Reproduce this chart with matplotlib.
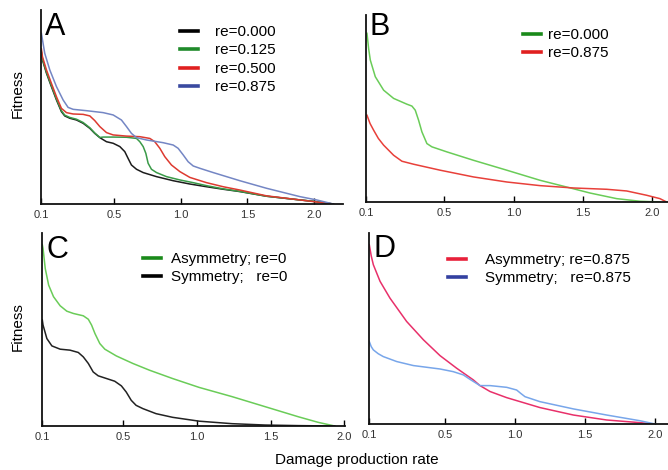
import numpy as np
import matplotlib.pyplot as plt
from matplotlib.lines import Line2D

plt.rcParams['font.family'] = ['Liberation Sans', 'DejaVu Sans']

# ---------------- data (x in axis units, fitness scaled 0..1) ----------------
# panel A
a_black_x = [-0.045, -0.037, -0.007, 0.030, 0.068, 0.105, 0.130, 0.168, 0.218, 0.268, 0.318,
             0.355, 0.393, 0.443, 0.493, 0.543, 0.580, 0.605, 0.630, 0.668, 0.718, 0.818,
             0.943, 1.068, 1.193, 1.318, 1.443, 1.643, 1.893, 2.018, 2.143]
a_black_y = [0.78, 0.742, 0.674, 0.605, 0.536, 0.476, 0.454, 0.442, 0.433, 0.416, 0.390,
             0.364, 0.342, 0.321, 0.313, 0.296, 0.270, 0.235, 0.201, 0.179, 0.162, 0.141,
             0.120, 0.103, 0.089, 0.076, 0.064, 0.040, 0.021, 0.012, 0.0]
a_green_x = [-0.045, -0.037, -0.007, 0.030, 0.068, 0.105, 0.130, 0.168, 0.218, 0.268, 0.318,
             0.355, 0.393, 0.418, 0.493, 0.593, 0.668, 0.693, 0.718, 0.738, 0.755, 0.780,
             0.818, 0.893, 0.993, 1.093, 1.193, 1.318, 1.443, 1.643, 1.893, 2.018, 2.143]
a_green_y = [0.785, 0.746, 0.679, 0.610, 0.541, 0.481, 0.458, 0.446, 0.437, 0.420, 0.393,
             0.366, 0.343, 0.345, 0.345, 0.344, 0.338, 0.321, 0.296, 0.261, 0.210, 0.179,
             0.162, 0.141, 0.124, 0.110, 0.0945, 0.078, 0.065, 0.040, 0.021, 0.012, 0.0]
a_red_x = [-0.045, -0.037, -0.007, 0.030, 0.068, 0.105, 0.143, 0.193, 0.268, 0.318, 0.355,
           0.393, 0.443, 0.493, 0.593, 0.693, 0.768, 0.805, 0.843, 0.880, 0.930, 0.993,
           1.068, 1.193, 1.318, 1.443, 1.643, 1.893, 2.143]
a_red_y = [0.80, 0.759, 0.691, 0.622, 0.553, 0.493, 0.471, 0.464, 0.462, 0.454, 0.430,
           0.399, 0.368, 0.356, 0.350, 0.347, 0.338, 0.321, 0.287, 0.244, 0.201, 0.167,
           0.137, 0.110, 0.089, 0.072, 0.042, 0.021, 0.0]
a_blue_x = [-0.045, -0.020, 0.018, 0.068, 0.118, 0.155, 0.193, 0.293, 0.418, 0.493, 0.555,
            0.593, 0.630, 0.668, 0.743, 0.868, 0.943, 0.980, 1.018, 1.055, 1.093, 1.143,
            1.243, 1.343, 1.443, 1.643, 1.893, 2.018, 2.143]
a_blue_y = [0.880, 0.777, 0.691, 0.605, 0.536, 0.498, 0.488, 0.481, 0.471, 0.459, 0.433,
            0.399, 0.364, 0.342, 0.330, 0.316, 0.304, 0.287, 0.253, 0.218, 0.196, 0.184,
            0.162, 0.141, 0.120, 0.081, 0.038, 0.021, 0.0]

# panel B
b_green_x = [-0.057, -0.045, -0.033, 0.003, 0.063, 0.135, 0.231, 0.267, 0.291, 0.315, 0.339,
             0.375, 0.411, 0.519, 0.711, 0.951, 1.191, 1.383, 1.551, 1.743, 1.911, 2.055]
b_green_y = [0.902, 0.820, 0.759, 0.670, 0.598, 0.554, 0.523, 0.513, 0.491, 0.4375, 0.375,
             0.3125, 0.295, 0.268, 0.223, 0.170, 0.116, 0.080, 0.048, 0.018, 0.004, 0.0]
b_red_x = [-0.057, -0.035, -0.009, 0.025, 0.063, 0.135, 0.195, 0.279, 0.471, 0.711, 0.951,
           1.191, 1.431, 1.671, 1.815, 1.959, 2.055, 2.103]
b_red_y = [0.464, 0.420, 0.384, 0.340, 0.304, 0.250, 0.218, 0.202, 0.170, 0.134, 0.107,
           0.0875, 0.075, 0.068, 0.059, 0.036, 0.018, 0.0]

# panel C
c_green_x = [-0.047, -0.042, -0.027, -0.004, 0.029, 0.074, 0.119, 0.164, 0.231, 0.265, 0.287,
             0.310, 0.343, 0.377, 0.455, 0.567, 0.680, 0.836, 1.016, 1.240, 1.464, 1.688,
             1.823, 1.935]
c_green_y = [0.94, 0.920, 0.816, 0.730, 0.670, 0.623, 0.595, 0.583, 0.571, 0.553, 0.523,
             0.479, 0.427, 0.398, 0.363, 0.324, 0.289, 0.246, 0.200, 0.152, 0.100, 0.048,
             0.019, 0.0]
c_black_x = [-0.047, -0.042, -0.016, 0.018, 0.074, 0.141, 0.197, 0.231, 0.265, 0.298, 0.332,
             0.388, 0.444, 0.489, 0.522, 0.556, 0.589, 0.635, 0.724, 0.836, 1.016, 1.240,
             1.464, 1.688, 1.935]
c_black_y = [0.55, 0.523, 0.453, 0.415, 0.398, 0.393, 0.381, 0.358, 0.324, 0.280, 0.260,
             0.246, 0.232, 0.208, 0.176, 0.133, 0.107, 0.090, 0.064, 0.045, 0.025, 0.012,
             0.005, 0.002, 0.0]

# panel D
d_red_x = [-0.044, -0.030, -0.015, 0.033, 0.104, 0.223, 0.343, 0.462, 0.581, 0.700, 0.748,
           0.820, 0.939, 1.058, 1.177, 1.416, 1.654, 1.893, 1.988]
d_red_y = [0.939, 0.880, 0.834, 0.747, 0.659, 0.537, 0.441, 0.358, 0.292, 0.231, 0.201,
           0.170, 0.138, 0.112, 0.086, 0.047, 0.021, 0.007, 0.0]
d_blue_x = [-0.044, -0.030, -0.015, 0.020, 0.056, 0.152, 0.271, 0.462, 0.557, 0.629, 0.676,
            0.748, 0.820, 0.939, 1.010, 1.040, 1.070, 1.177, 1.416, 1.654, 1.893, 2.000]
d_blue_y = [0.432, 0.405, 0.388, 0.368, 0.353, 0.327, 0.306, 0.288, 0.274, 0.257, 0.234,
            0.201, 0.201, 0.192, 0.178, 0.160, 0.143, 0.117, 0.079, 0.047, 0.017, 0.0]

tick_vals = [0.5, 1.0, 1.5, 2.0]
tick_text = ['0.1', '0.5', '1.0', '1.5', '2.0']

W, H = 668, 470
fig = plt.figure(figsize=(W / 100, H / 100), dpi=100)


def make_ax(left, top, right, bottom, xl):
    ax = fig.add_axes([left / W, 1 - bottom / H, (right - left) / W, (bottom - top) / H])
    ax.set_xlim(*xl)
    ax.set_ylim(0, 1)
    for s in ['top', 'right']:
        ax.spines[s].set_visible(False)
    for s in ['left', 'bottom']:
        ax.spines[s].set_linewidth(1.3)
        ax.spines[s].set_color('#111111')
    ax.set_yticks([])
    ax.set_xticks([xl[0]] + tick_vals)
    ax.set_xticklabels(tick_text)
    ax.tick_params(axis='x', direction='in', length=4, width=1, pad=4,
                   labelsize=8, labelcolor='#333333')
    ax.set_facecolor('none')
    return ax


axA = make_ax(41, 10, 343, 204, (-0.048, 2.216))
axB = make_ax(366, 15, 668, 202, (-0.064, 2.113))
axC = make_ax(42, 233, 345, 426, (-0.049, 2.005))
axD = make_ax(369, 233, 668, 424, (-0.046, 2.093))

lw = 1.1
axA.plot(a_black_x, a_black_y, color='#1c1c1c', lw=lw)
axA.plot(a_green_x, a_green_y, color='#3a9a48', lw=lw)
axA.plot(a_red_x, a_red_y, color='#dd3a30', lw=lw)
axA.plot(a_blue_x, a_blue_y, color='#7486c4', lw=lw)

axB.plot(b_green_x, b_green_y, color='#6acc58', lw=lw)
axB.plot(b_red_x, b_red_y, color='#e8403a', lw=lw)

axC.plot(c_green_x, c_green_y, color='#6acc58', lw=lw)
axC.plot(c_black_x, c_black_y, color='#222222', lw=lw)

axD.plot(d_red_x, d_red_y, color='#e8306a', lw=lw)
axD.plot(d_blue_x, d_blue_y, color='#78a6ea', lw=lw)


def legend(ax, labels, colors, x, y, pad):
    handles = [Line2D([], [], color=c, lw=2.6) for c in colors]
    ax.legend(handles, labels, loc='upper left', bbox_to_anchor=(x / W, 1 - y / H),
              bbox_transform=fig.transFigure, frameon=False, fontsize=11,
              handlelength=1.2, handletextpad=pad, labelspacing=0.29,
              borderpad=0, borderaxespad=0)


legend(axA, ['re=0.000', 're=0.125', 're=0.500', 're=0.875'],
       ['#000000', '#1f8a2a', '#e02020', '#3a4aa0'], 180, 25, 1.1)
legend(axB, ['re=0.000', 're=0.875'], ['#1a8a1a', '#e02020'], 523, 28, 0.45)
legend(axC, ['Asymmetry; re=0', 'Symmetry;   re=0'], ['#1a8a1a', '#000000'], 143, 252, 0.65)
legend(axD, ['Asymmetry; re=0.875', 'Symmetry;   re=0.875'],
       ['#e8203a', '#3340a0'], 448, 253, 1.25)

for letter, x, y in [('A', 45, 35), ('B', 370, 35), ('C', 47, 258), ('D', 373, 257)]:
    fig.text(x / W, 1 - y / H, letter, fontsize=22, va='baseline', ha='left')

fig.text(18 / W, 1 - 94 / H, 'Fitness', rotation=90, fontsize=11, ha='center', va='center')
fig.text(18 / W, 1 - 327 / H, 'Fitness', rotation=90, fontsize=11, ha='center', va='center')
fig.text(357 / W, 1 - 460 / H, 'Damage production rate', fontsize=11, ha='center', va='center')

fig.savefig('out.png', dpi=100)
